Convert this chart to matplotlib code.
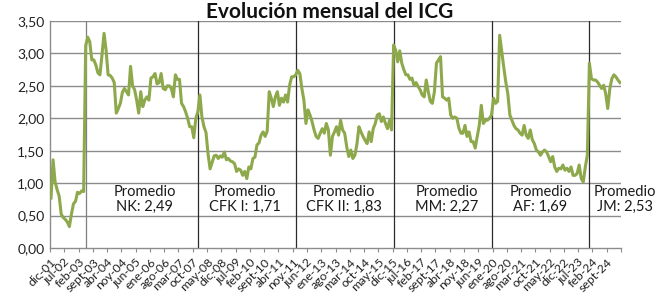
import matplotlib
matplotlib.use("Agg")
import matplotlib.pyplot as plt

plt.rcParams['font.family'] = ['Lato', 'DejaVu Sans']

# Monthly ICG values, dic-01 onwards
icg = [
    0.77, 1.36, 1.02, 0.90, 0.80, 0.52, 0.47, 0.44, 0.40, 0.33,
    0.52, 0.68, 0.72, 0.86, 0.84, 0.88, 0.87, 3.12, 3.25, 3.18,
    2.90, 2.90, 2.82, 2.70, 2.67, 2.98, 3.31, 3.05, 2.67, 2.66,
    2.62, 2.55, 2.08, 2.15, 2.23, 2.40, 2.46, 2.41, 2.36, 2.80,
    2.50, 2.44, 2.28, 2.08, 2.41, 2.18, 2.28, 2.33, 2.28, 2.62,
    2.64, 2.69, 2.53, 2.55, 2.69, 2.46, 2.44, 2.50, 2.50, 2.46,
    2.33, 2.67, 2.60, 2.60, 2.23, 2.18, 2.10, 2.00, 1.87, 1.87,
    1.70, 2.00, 2.10, 2.36, 2.02, 1.87, 1.78, 1.45, 1.22, 1.32,
    1.42, 1.43, 1.38, 1.42, 1.40, 1.48, 1.36, 1.38, 1.34, 1.33,
    1.30, 1.18, 1.22, 1.20, 1.12, 1.18, 1.07, 1.25, 1.22, 1.38,
    1.40, 1.59, 1.62, 1.74, 1.79, 1.72, 1.80, 2.41, 2.31, 2.18,
    2.33, 2.41, 2.20, 2.31, 2.25, 2.36, 2.25, 2.51, 2.64, 2.64,
    2.67, 2.74, 2.69, 2.46, 2.28, 1.92, 2.13, 2.05, 1.95, 1.82,
    1.72, 1.69, 1.77, 1.84, 1.77, 1.92, 1.82, 1.43, 1.72, 1.79,
    1.87, 1.74, 1.97, 1.82, 1.77, 1.56, 1.41, 1.51, 1.38, 1.43,
    1.60, 1.87, 1.79, 1.72, 1.66, 1.61, 1.79, 1.64, 1.84, 1.92,
    2.05, 2.07, 1.95, 2.02, 1.92, 1.84, 1.97, 1.82, 3.13, 3.05,
    2.87, 3.04, 2.85, 2.75, 2.67, 2.67, 2.60, 2.62, 2.51, 2.55,
    2.49, 2.44, 2.36, 2.33, 2.59, 2.41, 2.26, 2.23, 2.41, 2.85,
    2.90, 2.95, 2.33, 2.31, 2.28, 2.31, 2.05, 2.00, 2.02, 2.00,
    1.85, 1.77, 1.77, 1.89, 1.72, 1.79, 1.64, 1.64, 1.54, 1.72,
    1.89, 2.20, 1.92, 1.97, 1.97, 2.00, 2.05, 2.31, 2.23, 2.26,
    3.28, 3.03, 2.79, 2.56, 2.38, 2.05, 1.97, 1.89, 1.84, 1.82,
    1.77, 1.74, 1.89, 1.74, 1.69, 1.82, 1.67, 1.61, 1.51, 1.48,
    1.43, 1.48, 1.51, 1.48, 1.41, 1.33, 1.41, 1.25, 1.18, 1.23,
    1.22, 1.28, 1.20, 1.23, 1.18, 1.25, 1.12, 1.12, 1.15, 1.28,
    1.07, 1.02, 1.25, 1.43, 2.85, 2.61, 2.59, 2.59, 2.56, 2.51,
    2.46, 2.51, 2.38, 2.15, 2.45, 2.61, 2.67, 2.64, 2.59, 2.55,
]

month_abbr = ["ene", "feb", "mar", "abr", "may", "jun",
              "jul", "ago", "sept", "oct", "nov", "dic"]
tick_step = 7

# Government changes (month index from dic-01) and averages
gov_start = [17, 72, 120, 168, 216, 264]
gov_names = ["NK", "CFK I", "CFK II", "MM", "AF", "JM"]
gov_avg = [2.49, 1.71, 1.83, 2.27, 1.69, 2.53]
label_x = [46.5, 95.5, 144, 194.5, 240.5, 282]

n = len(icg)
x = [i + 0.5 for i in range(n)]

def month_label(i):
    m = (11 + i) % 12
    y = 2001 + (11 + i) // 12
    return f"{month_abbr[m]}-{y % 100:02d}"

fig = plt.figure(figsize=(6.59, 3.02), dpi=100)
ax = fig.add_axes([50/659, 1-248/302, 571/659, 227/302])

grid_c = "#8c8c8c"
for v in [0.5, 1.0, 1.5, 2.0, 2.5, 3.0, 3.5]:
    ax.axhline(v, color=grid_c, lw=1.0, zorder=1)

for k, g in enumerate(gov_start):
    ax.axvline(g + 0.5, color="#7f7f7f" if k == 0 else "#2b2b2b", lw=0.9, zorder=2)

ax.plot(x, icg, color="#8ea94b", lw=2.2, zorder=3, solid_joinstyle="round")

ax.set_xlim(0, n)
ax.set_ylim(0, 3.5)
ax.set_yticks([0, 0.5, 1, 1.5, 2, 2.5, 3, 3.5])
ax.set_yticklabels([f"{v:.2f}".replace(".", ",") for v in [0, 0.5, 1, 1.5, 2, 2.5, 3, 3.5]],
                   fontsize=10, color="#222222")

ticks = list(range(0, n + 1, tick_step))
ax.set_xticks(ticks)
labels = [month_label(t) if t < n - 3 else "" for t in ticks]
ax.set_xticklabels(labels, rotation=45, ha="right", va="top",
                   rotation_mode="anchor", fontsize=8.8, color="#222222")
ax.tick_params(axis="x", length=3, color=grid_c, pad=3)
ax.tick_params(axis="y", length=0, pad=4)

for s in ["top", "right"]:
    ax.spines[s].set_visible(False)
for s in ["left", "bottom"]:
    ax.spines[s].set_color(grid_c)
    ax.spines[s].set_linewidth(1.0)

for name, avg, lx in zip(gov_names, gov_avg, label_x):
    ax.text(lx, 0.75, f"Promedio\n{name}: {avg:.2f}".replace(".", ","),
            ha="center", va="center", fontsize=10.5, color="#1a1a1a",
            linespacing=1.15, clip_on=False, zorder=4)

fig.text(0.5, 0.995, "Evolución mensual del ICG", ha="center", va="top",
         fontsize=15, fontweight="bold", color="#111111")

fig.savefig("out.png", dpi=100)
